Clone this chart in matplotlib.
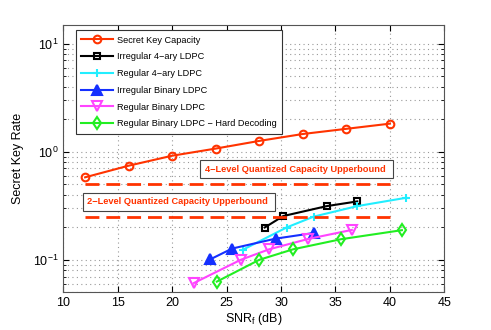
import matplotlib
matplotlib.use("Agg")
import matplotlib.pyplot as plt
from matplotlib.ticker import LogLocator, NullFormatter

plt.rcParams['font.family'] = ['Liberation Sans', 'DejaVu Sans']

# data
snr_cap = [12, 16, 20, 24, 28, 32, 36, 40]
cap = [0.58, 0.743, 0.919, 1.07, 1.26, 1.46, 1.63, 1.82]

snr_irr4 = [28.5, 30.2, 34.2, 37.0]
irr4 = [0.199, 0.254, 0.314, 0.347]

snr_reg4 = [26.5, 30.5, 33.0, 37.0, 41.5]
reg4 = [0.124, 0.199, 0.251, 0.314, 0.375]

snr_irrb = [23.5, 25.5, 29.5, 33.0]
irrb = [0.101, 0.127, 0.157, 0.177]

snr_regb = [22.0, 26.3, 28.9, 32.5, 36.5]
regb = [0.061, 0.100, 0.125, 0.156, 0.189]

snr_hard = [24.1, 28.0, 31.1, 35.5, 41.1]
hard = [0.0628, 0.100, 0.125, 0.155, 0.188]

bound_x = [12, 40]
bound4 = 0.5
bound2 = 0.25

red = '#ff3300'

fig = plt.figure(figsize=(4.91, 3.30), dpi=100)
ax = fig.add_axes([0.129, 0.1142, 0.776, 0.8110])

ax.semilogy(snr_cap, cap, '-o', color=red, lw=1.5, ms=5.5, mfc='none', mew=1.5,
            label='Secret Key Capacity')
ax.semilogy(snr_irr4, irr4, '-s', color='black', lw=1.5, ms=5, mfc='none', mew=1.5,
            label='Irregular 4\u2212ary LDPC')
ax.semilogy(snr_reg4, reg4, '-+', color='#22eeff', lw=1.5, ms=6, mew=1.5,
            label='Regular 4\u2212ary LDPC')
ax.semilogy(snr_irrb, irrb, '-^', color='#1530ff', lw=1.5, ms=6.5, mew=1.5,
            label='Irregular Binary LDPC')
ax.semilogy(snr_regb, regb, '-v', color='#ff44ff', lw=1.5, ms=6.5, mfc='none', mew=1.5,
            label='Regular Binary LDPC')
ax.semilogy(snr_hard, hard, '-d', color='#22ee22', lw=1.5, ms=6.5, mfc='none', mew=1.5,
            label='Regular Binary LDPC \u2212 Hard Decoding')

ax.plot(bound_x, [bound4, bound4], '--', color=red, lw=2, dashes=(5, 2.5))
ax.plot(bound_x, [bound2, bound2], '--', color=red, lw=2, dashes=(5, 2.5))

box = dict(boxstyle='square,pad=0.5', fc='white', ec='#444444', lw=0.8)
ax.text(23.0, 0.69, '4\u2212Level Quantized Capacity Upperbound ', color=red,
        fontsize=6.7, fontweight='bold', va='center', ha='left', bbox=box)
ax.text(12.2, 0.345, '2\u2212Level Quantized Capacity Upperbound ', color=red,
        fontsize=6.7, fontweight='bold', va='center', ha='left', bbox=box)

ax.set_xlim(10, 45)
ax.set_ylim(0.05, 15)
ax.set_xticks([10, 15, 20, 25, 30, 35, 40, 45])
ax.yaxis.set_major_locator(LogLocator(base=10, numticks=10))
ax.yaxis.set_minor_locator(LogLocator(base=10, subs=range(2, 10), numticks=20))
ax.yaxis.set_minor_formatter(NullFormatter())
ax.tick_params(axis='both', which='both', direction='in', labelsize=9)
ax.tick_params(which='major', length=4)
ax.tick_params(which='minor', length=2)
ax.tick_params(top=True, right=True, which='both')
ax.grid(True, which='major', ls=(0, (1, 3)), color='#999999', lw=0.8)
ax.grid(True, which='minor', axis='y', ls=(0, (1, 3)), color='#999999', lw=0.8)
for s in ax.spines.values():
    s.set_color('#555555')

ax.set_xlabel('SNR$_\\mathregular{f}$ (dB)', fontsize=9, labelpad=1)
ax.set_ylabel('Secret Key Rate', fontsize=9, labelpad=6)

leg = ax.legend(loc='upper left', bbox_to_anchor=(0.033, 0.980), borderaxespad=0,
                fontsize=6.6, handlelength=3.4, handletextpad=0.45,
                labelspacing=0.85, fancybox=False, framealpha=1, borderpad=0.6)
leg.get_frame().set_edgecolor('#333333')
leg.get_frame().set_linewidth(0.8)

fig.savefig('out.png', dpi=100)
